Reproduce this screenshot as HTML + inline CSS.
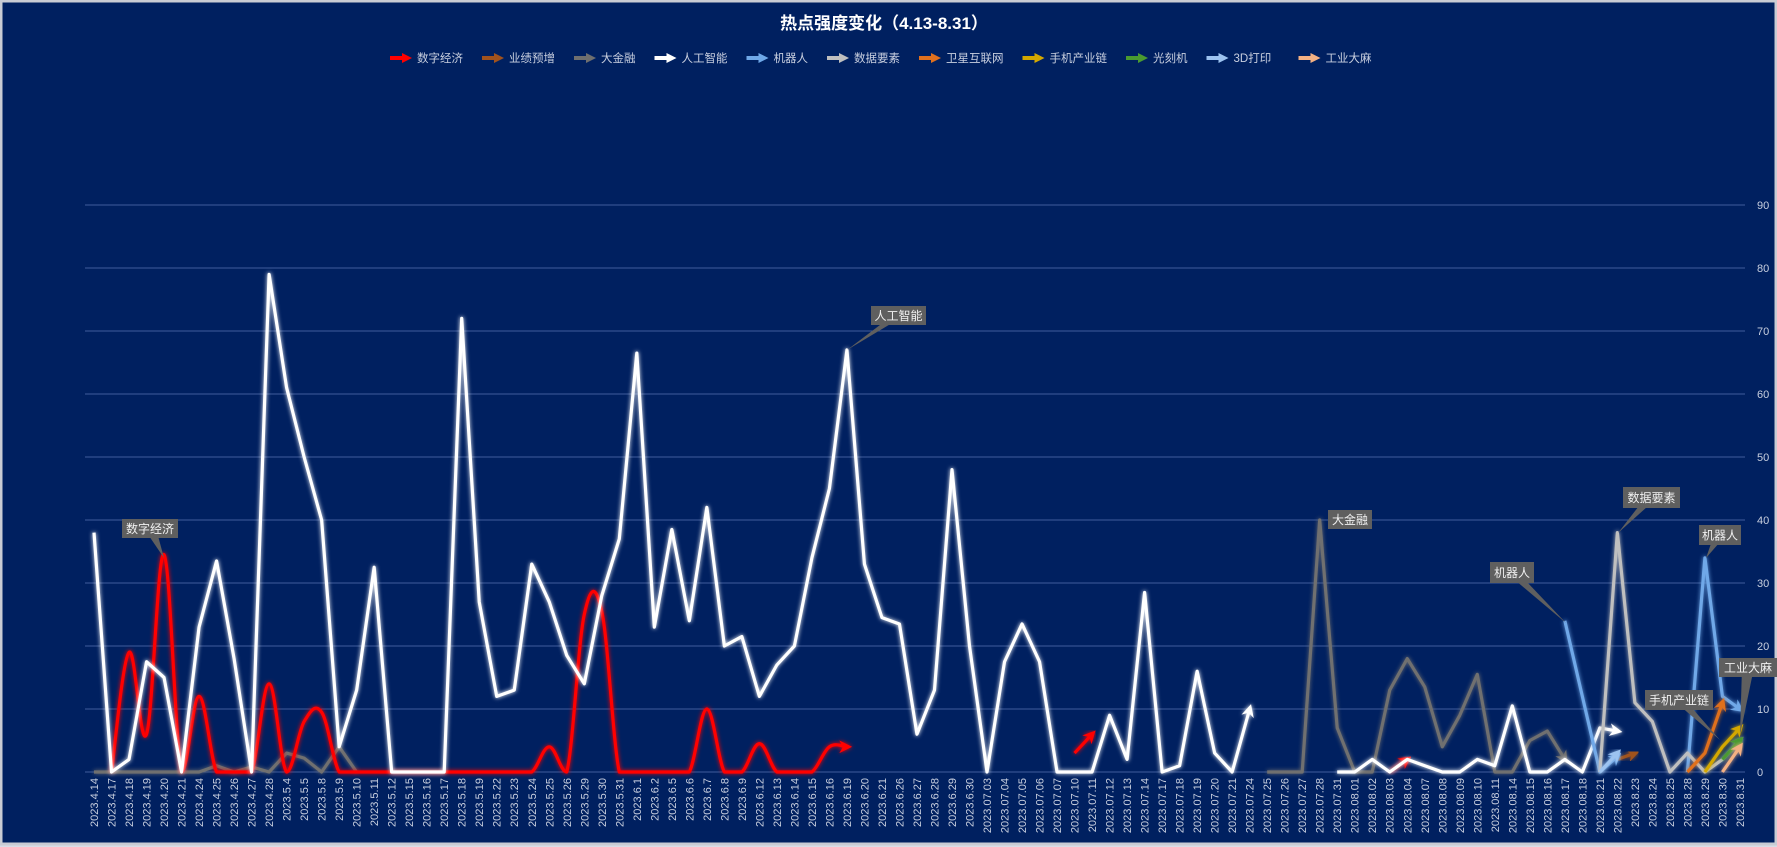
<!DOCTYPE html>
<html><head><meta charset="utf-8">
<style>
html,body{margin:0;padding:0;background:#d9dde6;}
#wrap{position:relative;width:1777px;height:847px;overflow:hidden;}
svg{display:block;font-family:"Liberation Sans","Noto Sans CJK SC",sans-serif;}
</style></head><body>
<div id="wrap">
<svg id="chart" width="1777" height="847" viewBox="0 0 1777 847">
<defs>
<filter id="glow" x="-20%" y="-20%" width="140%" height="140%">
<feGaussianBlur stdDeviation="2.2" result="b"/>
<feMerge><feMergeNode in="b"/><feMergeNode in="SourceGraphic"/></feMerge>
</filter>
</defs>
<rect x="1" y="1" width="1775" height="843" fill="#002060" stroke="#c9ccd4" stroke-width="3"/>
<text x="884" y="29" text-anchor="middle" fill="#ffffff" font-size="17" font-weight="bold">热点强度变化（4.13-8.31）</text>
<g id="legend"></g>
<g id="grid"></g>
<g id="yticks"></g>
<g id="xticks"></g>
<g id="series"></g>
<g id="notes"></g>
</svg>
</div>
<script>
const categories = ["2023.4.14","2023.4.17","2023.4.18","2023.4.19","2023.4.20","2023.4.21","2023.4.24","2023.4.25","2023.4.26","2023.4.27","2023.4.28","2023.5.4","2023.5.5","2023.5.8","2023.5.9","2023.5.10","2023.5.11","2023.5.12","2023.5.15","2023.5.16","2023.5.17","2023.5.18","2023.5.19","2023.5.22","2023.5.23","2023.5.24","2023.5.25","2023.5.26","2023.5.29","2023.5.30","2023.5.31","2023.6.1","2023.6.2","2023.6.5","2023.6.6","2023.6.7","2023.6.8","2023.6.9","2023.6.12","2023.6.13","2023.6.14","2023.6.15","2023.6.16","2023.6.19","2023.6.20","2023.6.21","2023.6.26","2023.6.27","2023.6.28","2023.6.29","2023.6.30","2023.07.03","2023.07.04","2023.07.05","2023.07.06","2023.07.07","2023.07.10","2023.07.11","2023.07.12","2023.07.13","2023.07.14","2023.07.17","2023.07.18","2023.07.19","2023.07.20","2023.07.21","2023.07.24","2023.07.25","2023.07.26","2023.07.27","2023.07.28","2023.07.31","2023.08.01","2023.08.02","2023.08.03","2023.08.04","2023.08.07","2023.08.08","2023.08.09","2023.08.10","2023.08.11","2023.08.14","2023.08.15","2023.08.16","2023.08.17","2023.08.18","2023.08.21","2023.08.22","2023.8.23","2023.8.24","2023.8.25","2023.8.28","2023.8.29","2023.8.30","2023.8.31"];
const yTicks = [0,10,20,30,40,50,60,70,80,90];
const seriesNames = ["数字经济","业绩预增","大金融","人工智能","机器人","数据要素","卫星互联网","手机产业链","光刻机","3D打印","工业大麻"];
const seriesColors = ["#ff0000","#a0521d","#6f6f6f","#ffffff","#6fa8e8","#bfbfbf","#e0701e","#d4a800","#4a9a30","#9dc3f0","#f4b183"];
const _ = null;
const digitalEconomy = [[1,0],[2,19],[3,6],[4,34.5],[5,0],[6,12],[7,0],[8,0],[9,0],[10,14],[11,0],[12,8],[13,9.5],[14,0],[15,0],[16,0],[17,0],[18,0],[19,0],[20,0],[21,0],[22,0],[23,0],[24,0],[25,0],[26,4],[27,0],[28,25],[29,25.5],[30,0],[31,0],[32,0],[33,0],[34,0],[35,10],[36,0],[37,0],[38,4.5],[39,0],[40,0],[41,0],[42,4],[43,4],_,[56,3],[57,6],_,[74,0],[75,2]];
const earningsIncrease = [[87,2],[88,3]];
const bigFinance = [[0,0],[1,0],[2,0],[3,0],[4,0],[5,0],[6,0],[7,1],[8,0],[9,0.8],[10,0],[11,3],[12,2.2],[13,0],[14,4],[15,0],_,[67,0],[68,0],[69,0],[70,40],[71,7],[72,0],[73,0],[74,13],[75,18],[76,13.5],[77,4],[78,9],[79,15.5],[80,0],[81,0],[82,5],[83,6.5],[84,2]];
const ai = [[0,38],[1,0],[2,2],[3,17.5],[4,15],[5,0],[6,23],[7,33.5],[8,18],[9,0],[10,79],[11,61],[12,50],[13,40],[14,4],[15,13],[16,32.5],[17,0],[18,0],[19,0],[20,0],[21,72],[22,27],[23,12],[24,13],[25,33],[26,27],[27,18.5],[28,14],[29,28],[30,37],[31,66.5],[32,23],[33,38.5],[34,24],[35,42],[36,20],[37,21.5],[38,12],[39,17],[40,20],[41,34],[42,45],[43,67],[44,33],[45,24.5],[46,23.5],[47,6],[48,13],[49,48],[50,20],[51,0],[52,17.5],[53,23.5],[54,17.5],[55,0],[56,0],[57,0],[58,9],[59,2],[60,28.5],[61,0],[62,1],[63,16],[64,3],[65,0],[66,10],_,[71,0],[72,0],[73,2],[74,0],[75,2],[76,1],[77,0],[78,0],[79,2],[80,1],[81,10.5],[82,0],[83,0],[84,2],[85,0],[86,7],[87,6.5]];
const robots = [[84,24],[85,12],[86,0],[87,2.5],_,[91,0],[92,34],[93,12],[94,10]];
const dataElements = [[86,0],[87,38],[88,11],[89,8],[90,0],[91,3],[92,0],[93,2],[94,5]];
const satellite = [[91,0],[92,3],[93,11]];
const phoneChain = [[92,0],[93,4],[94,7]];
const lithography = [[93,2],[94,5]];
const print3d = [[86,0],[87,3]];
const hemp = [[93,0],[94,4]];
const allSeries = [digitalEconomy,earningsIncrease,bigFinance,ai,robots,dataElements,satellite,phoneChain,lithography,print3d,hemp];

const NS="http://www.w3.org/2000/svg";
const X0=94, DX=17.51, Y0=772, DY=6.3;
const xs=i=>X0+i*DX, ys=v=>Y0-v*DY;
function mk(tag,attrs,parent){const e=document.createElementNS(NS,tag);for(const k in attrs)e.setAttribute(k,attrs[k]);parent.appendChild(e);return e;}
const svg=document.getElementById('chart');
const defs=svg.querySelector('defs');
seriesColors.forEach((c,k)=>{
  const m=mk('marker',{id:'arr'+k,viewBox:'0 0 10 10',refX:'6',refY:'5',markerWidth:'4',markerHeight:'4',orient:'auto',markerUnits:'strokeWidth'},defs);
  mk('path',{d:'M0,0 L10,5 L0,10 L3,5 Z',fill:c},m);
});
const grid=document.getElementById('grid'), yt=document.getElementById('yticks');
yTicks.forEach(v=>{
  if(v>0){const l=mk('line',{x1:85,x2:1745,y1:ys(v),y2:ys(v),stroke:'#3f5c9c','stroke-width':1},grid);
  
  }
  const t=mk('text',{x:1757,y:ys(v)+4,fill:'#c8cfdf','font-size':11},yt);
  t.textContent=v;
  
  
});
const base=mk('line',{x1:85,x2:1745,y1:Y0,y2:Y0,stroke:'#3f5c9c','stroke-width':1},grid);


const xt=document.getElementById('xticks');
categories.forEach((c,i)=>{
  const t=mk('text',{x:0,y:0,fill:'#c8cfdf','font-size':11,'text-anchor':'end',transform:`translate(${xs(i)+4},778) rotate(-90)`},xt);
  t.textContent=c;
  
  
});
function segments(arr){const segs=[];let cur=[];arr.forEach(p=>{if(p===null){if(cur.length)segs.push(cur);cur=[];}else cur.push(p);});if(cur.length)segs.push(cur);return segs;}
function smoothPath(pts){let d=`M${pts[0][0]},${pts[0][1]}`;const cl=y=>Math.min(Y0,y);for(let i=0;i<pts.length-1;i++){const p0=pts[Math.max(0,i-1)],p1=pts[i],p2=pts[i+1],p3=pts[Math.min(pts.length-1,i+2)];const t=0.18;d+=` C${p1[0]+(p2[0]-p0[0])*t},${cl(p1[1]+(p2[1]-p0[1])*t)} ${p2[0]-(p3[0]-p1[0])*t},${cl(p2[1]-(p3[1]-p1[1])*t)} ${p2[0]},${p2[1]}`;}return d;}
const sg=document.getElementById('series');
const order=[2,0,3,1,4,5,6,7,8,9,10];
order.forEach(k=>{
  segments(allSeries[k]).forEach((seg,si)=>{
    const pts=seg.map(p=>[xs(p[0]),ys(p[1])]);
    const d=k===0?smoothPath(pts):'M'+pts.map(p=>p.join(',')).join(' L');
    const attrs={d:d,fill:'none',stroke:seriesColors[k],'stroke-width':3.2,'stroke-linejoin':'round',filter:'url(#glow)'};
    if(!(k===2&&si===0)) attrs['marker-end']=`url(#arr${k})`;
    const p=mk('path',attrs,sg);
    
    
  });
});
const lg=document.getElementById('legend');
let lx=390;
seriesNames.forEach((n,k)=>{
  const g=mk('g',{},lg);
  
  
  mk('path',{d:`M${lx},58 L${lx+14},58`,stroke:seriesColors[k],'stroke-width':4},g);
  mk('path',{d:`M${lx+12},53 L${lx+22},58 L${lx+12},63 Z`,fill:seriesColors[k]},g);
  const t=mk('text',{x:lx+27,y:62,fill:'#c8cfdf','font-size':11.5},g);
  t.textContent=n;
  lx+=27+n.length*11.5+19;
});
const notes=[["数字经济",122,519,56,19,164,558],["人工智能",871,306,55,19,847,350],["大金融",1328,510,44,19,1321,520],["机器人",1490,562,44,21,1566,623],["数据要素",1623,487,57,21,1618,533],["机器人",1699,525,42,20,1706,558],["工业大麻",1719,658,58,19,1740,735],["手机产业链",1645,690,68,20,1720,740]];
const ng=document.getElementById('notes');
notes.forEach(n=>{
  const [txt,x,y,w,h,px,py]=n;
  const g=mk('g',{},ng);
  
  
  const cx=x+w/2, cy=y+h/2;
  mk('polygon',{points:`${cx-6},${cy} ${cx+6},${cy} ${px},${py}`,fill:'#5f5f5f'},g);
  mk('rect',{x:x,y:y,width:w,height:h,fill:'#5f5f5f'},g);
  const t=mk('text',{x:cx,y:y+h/2+4.5,fill:'#f0f0f0','font-size':12,'text-anchor':'middle'},g);
  t.textContent=txt;
});
</script>
</body></html>
